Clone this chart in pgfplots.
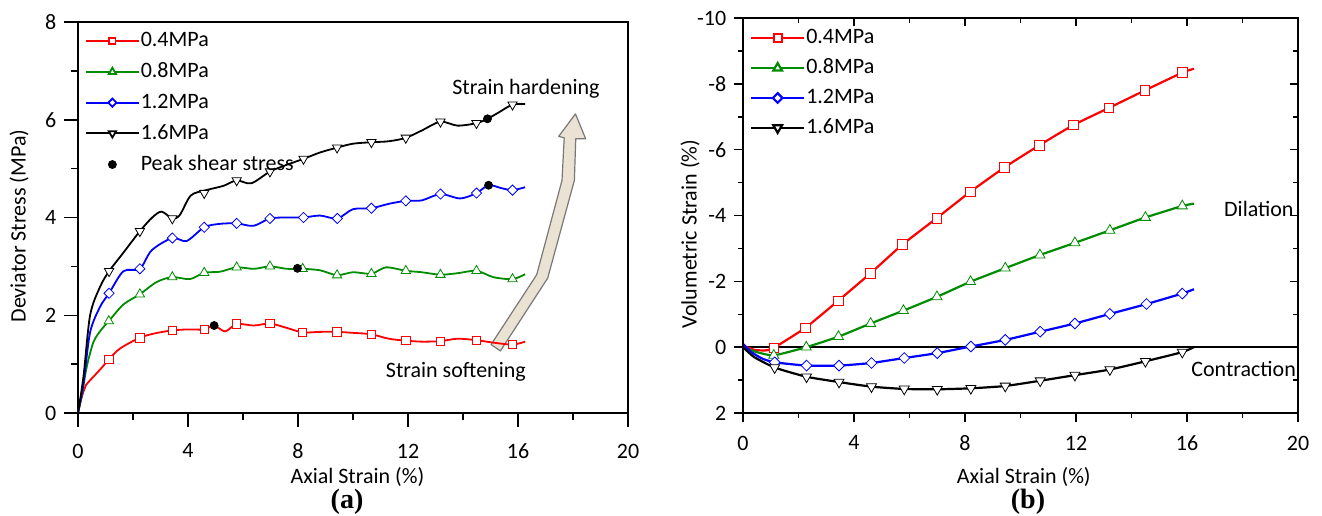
\documentclass[border=0pt]{standalone}
\usepackage{fontspec}
\setmainfont{Carlito}
\newfontfamily\timesfont{Liberation Serif}
\usepackage{pgfplots}
\pgfplotsset{compat=1.18}

\definecolor{cred}{RGB}{255,0,0}
\definecolor{cgreen}{RGB}{0,140,0}
\definecolor{cblue}{RGB}{0,0,255}
\definecolor{arrowfill}{RGB}{234,226,210}
\definecolor{arrowdraw}{RGB}{120,120,120}

\newcommand{\lblfont}{\fontsize{11}{13}\selectfont}
\pgfplotsset{longlegend/.style={legend image code/.code={\draw[mark repeat=2,mark phase=2,##1] plot coordinates {(0pt,0pt) (13.25pt,0pt) (26.5pt,0pt)};}}}

\begin{document}
\lblfont
\begin{tikzpicture}
\useasboundingbox (0,0) rectangle (661pt,257.5pt);

% ---------------- (a) ----------------
\begin{axis}[
  scale only axis,
  at={(39pt,51pt)}, anchor=south west,
  width=275pt, height=195.5pt,
  /pgf/number format/assume math mode=true,
  tick label style={font=\lblfont},
  xmin=0, xmax=20, xtick={0,4,...,20}, minor xtick={2,6,...,18},
  ymin=0, ymax=8, ytick={0,2,...,8}, minor ytick={1,3,...,7},
  tick align=outside, tick pos=left,
  major tick length=7pt, minor tick length=3.5pt,
  axis line style={line width=0.75pt},
  every tick/.style={black, line width=0.75pt},
  xticklabel style={yshift=-4.5pt},
  xlabel={Axial Strain (\%)},
  ylabel={Deviator Stress (MPa)},
  every axis y label/.style={at={(axis description cs:-0.107,0.478)}, anchor=center, rotate=90, font=\lblfont, inner sep=0pt},
  every axis x label/.style={at={(axis description cs:0.508,-0.163)}, anchor=center, font=\lblfont, inner sep=0pt},
  legend style={font=\lblfont, draw=none, fill=none, anchor=north west, inner sep=0pt, row sep=5.4pt,
     nodes={inner sep=0.5pt}, at={(axis description cs:0.012,0.977)}},
  legend cell align=left,
]
\addlegendimage{longlegend, cred, line width=0.9pt, mark=square*, mark size=1.6pt, mark options={fill=white, solid}}
\addlegendentry{0.4MPa}
\addlegendimage{longlegend, cgreen, line width=0.9pt, mark=triangle*, mark size=2.1pt, mark options={fill=white, solid}}
\addlegendentry{0.8MPa}
\addlegendimage{longlegend, cblue, line width=0.9pt, mark=square*, mark size=1.45pt, mark options={fill=white, solid, rotate=45}}
\addlegendentry{1.2MPa}
\addlegendimage{longlegend, black, line width=0.9pt, mark=triangle*, mark size=2.1pt, mark options={fill=white, solid, rotate=180}}
\addlegendentry{1.6MPa}
\addlegendimage{longlegend, only marks, mark=*, black, mark size=2pt}
\addlegendentry{Peak shear stress}

% arrow
\draw[arrowdraw, fill=arrowfill, line width=0.6pt, line join=round]
  (axis cs:15.02,1.40) -- (axis cs:16.68,2.83) -- (axis cs:17.60,4.76) -- (axis cs:17.68,5.63)
  -- (axis cs:17.48,5.66) -- (axis cs:18.09,6.12) -- (axis cs:18.46,5.61) -- (axis cs:18.10,5.61)
  -- (axis cs:18.05,4.76) -- (axis cs:17.08,2.76) -- (axis cs:15.36,1.27) -- cycle;

% 0.4 MPa
\addplot[cred, line width=0.9pt, smooth, tension=0.5] coordinates {
(0,0)(0.15,0.35)(0.3,0.58)(0.44,0.67)(0.69,0.82)(0.9,0.95)(1.12,1.1)(1.53,1.32)(2.25,1.54)(2.8,1.63)(3.43,1.69)(4.0,1.71)(4.59,1.71)(4.95,1.79)(5.35,1.67)(5.77,1.82)(6.4,1.79)(6.98,1.83)(7.6,1.74)(8.17,1.65)(8.8,1.66)(9.42,1.66)(10.0,1.64)(10.67,1.61)(11.3,1.52)(11.92,1.48)(12.5,1.46)(13.18,1.47)(13.8,1.52)(14.49,1.49)(15.1,1.44)(15.8,1.40)(16.26,1.46)};
\addplot[cred, only marks, mark=square*, mark size=2.1pt, mark options={fill=white}] coordinates {
(1.12,1.1)(2.25,1.54)(3.43,1.69)(4.59,1.71)(5.77,1.82)(6.98,1.83)(8.17,1.65)(9.42,1.66)(10.67,1.61)(11.92,1.48)(13.18,1.47)(14.49,1.49)(15.8,1.40)};

% 0.8 MPa
\addplot[cgreen, line width=0.9pt, smooth, tension=0.5] coordinates {
(0,0)(0.15,0.4)(0.32,0.95)(0.56,1.45)(0.84,1.7)(1.12,1.88)(1.65,2.22)(2.25,2.43)(2.86,2.68)(3.43,2.78)(4.07,2.74)(4.59,2.87)(5.16,2.89)(5.77,2.98)(6.4,2.95)(6.98,3.0)(7.6,2.95)(8.17,2.95)(8.8,2.92)(9.42,2.82)(10.0,2.88)(10.67,2.85)(11.2,2.98)(11.92,2.91)(12.5,2.88)(13.18,2.83)(13.8,2.86)(14.49,2.91)(15.1,2.78)(15.8,2.74)(16.26,2.84)};
\addplot[cgreen, only marks, mark=triangle*, mark size=2.7pt, mark options={fill=white}] coordinates {
(1.12,1.88)(2.25,2.43)(3.43,2.78)(4.59,2.87)(5.77,2.98)(6.98,3.0)(8.17,2.95)(9.42,2.82)(10.67,2.85)(11.92,2.91)(13.18,2.83)(14.49,2.91)(15.8,2.74)};

% 1.2 MPa
\addplot[cblue, line width=0.9pt, smooth, tension=0.5] coordinates {
(0,0)(0.2,0.6)(0.44,1.65)(0.8,2.17)(1.13,2.45)(1.65,2.9)(2.25,2.95)(2.68,3.33)(3.43,3.58)(3.95,3.52)(4.59,3.8)(5.16,3.87)(5.77,3.88)(6.38,3.83)(6.98,3.98)(7.6,4.0)(8.2,4.0)(8.8,4.04)(9.43,3.98)(10.0,4.17)(10.67,4.19)(11.3,4.28)(11.92,4.34)(12.5,4.35)(13.18,4.48)(13.9,4.39)(14.49,4.5)(14.93,4.66)(15.4,4.6)(15.8,4.56)(16.26,4.62)};
\addplot[cblue, only marks, mark=square*, mark size=1.8pt, mark options={fill=white, rotate=45}] coordinates {
(1.13,2.45)(2.25,2.95)(3.43,3.58)(4.59,3.8)(5.77,3.88)(6.98,3.98)(8.2,4.0)(9.43,3.98)(10.67,4.19)(11.92,4.34)(13.18,4.48)(14.49,4.5)(15.8,4.56)};

% 1.6 MPa
\addplot[black, line width=0.9pt, smooth, tension=0.5] coordinates {
(0,0)(0.2,0.75)(0.44,2.0)(0.8,2.58)(1.13,2.9)(1.65,3.28)(2.25,3.72)(2.7,4.0)(3.04,4.12)(3.43,3.98)(3.7,4.05)(4.1,4.45)(4.59,4.55)(4.8,4.58)(5.3,4.65)(5.77,4.76)(6.3,4.7)(6.98,4.94)(7.6,5.08)(8.2,5.2)(8.8,5.33)(9.42,5.43)(10.0,5.51)(10.67,5.54)(11.3,5.56)(11.92,5.63)(12.5,5.78)(13.18,5.96)(13.8,5.88)(14.49,5.93)(14.89,6.02)(15.3,6.15)(15.8,6.31)(16.26,6.32)};
\addplot[black, only marks, mark=triangle*, mark size=2.7pt, mark options={fill=white, rotate=180}] coordinates {
(1.13,2.9)(2.25,3.72)(3.43,3.98)(4.59,4.5)(5.77,4.76)(6.98,4.94)(8.2,5.2)(9.42,5.43)(10.67,5.54)(11.92,5.63)(13.18,5.96)(14.49,5.93)(15.8,6.31)};

% peak shear stress
\addplot[black, only marks, mark=*, mark size=2pt] coordinates {
(4.95,1.79)(7.98,2.96)(14.93,4.66)(14.89,6.02)};

\node[font=\lblfont] at (axis cs:16.29,6.63) {Strain hardening};
\node[font=\lblfont] at (axis cs:13.74,0.84) {Strain softening};
\end{axis}

% ---------------- (b) ----------------
\begin{axis}[
  scale only axis,
  at={(371.5pt,51pt)}, anchor=south west,
  width=277.5pt, height=197.5pt,
  /pgf/number format/assume math mode=true,
  tick label style={font=\lblfont},
  xmin=0, xmax=20, xtick={0,4,...,20}, minor xtick={2,6,...,18},
  ymin=-10, ymax=2, y dir=reverse, ytick={-10,-8,...,2}, minor ytick={-9,-7,...,1},
  tick align=outside, tick pos=left,
  major tick length=4.5pt, minor tick length=2.5pt,
  axis line style={line width=0.75pt},
  every tick/.style={black, line width=0.75pt},
  xticklabel style={yshift=-3pt},
  xlabel={Axial Strain (\%)},
  ylabel={Volumetric Strain (\%)},
  every axis y label/.style={at={(axis description cs:-0.0955,0.453)}, anchor=center, rotate=90, font=\lblfont, inner sep=0pt},
  every axis x label/.style={at={(axis description cs:0.506,-0.162)}, anchor=center, font=\lblfont, inner sep=0pt},
  legend style={font=\lblfont, draw=none, fill=none, anchor=north west, inner sep=0pt, row sep=5.0pt,
     nodes={inner sep=0.5pt}, at={(axis description cs:0.012,0.975)}},
  legend cell align=left,
]
\addlegendimage{longlegend, cred, line width=1.1pt, mark=square*, mark size=2.0pt, mark options={fill=white, solid}}
\addlegendentry{0.4MPa}
\addlegendimage{longlegend, cgreen, line width=1.1pt, mark=triangle*, mark size=2.5pt, mark options={fill=white, solid}}
\addlegendentry{0.8MPa}
\addlegendimage{longlegend, cblue, line width=1.1pt, mark=square*, mark size=1.7pt, mark options={fill=white, solid, rotate=45}}
\addlegendentry{1.2MPa}
\addlegendimage{longlegend, black, line width=1.1pt, mark=triangle*, mark size=2.5pt, mark options={fill=white, solid, rotate=180}}
\addlegendentry{1.6MPa}

\draw[black, line width=0.75pt] (axis cs:0,0) -- (axis cs:20,0);

% 0.4 MPa
\addplot[cred, line width=1.1pt, smooth, tension=0.3] coordinates {
(0,-0.05)(0.4,0.08)(0.8,0.1)(1.11,0.02)(2.25,-0.59)(3.43,-1.41)(4.6,-2.25)(5.75,-3.12)(6.98,-3.92)(8.19,-4.72)(9.42,-5.46)(10.67,-6.13)(11.91,-6.75)(13.19,-7.27)(14.48,-7.80)(15.83,-8.34)(16.25,-8.46)};
\addplot[cred, only marks, mark=square*, mark size=2.4pt, mark options={fill=white}] coordinates {
(1.11,0.02)(2.25,-0.59)(3.43,-1.41)(4.6,-2.25)(5.75,-3.12)(6.98,-3.92)(8.19,-4.72)(9.42,-5.46)(10.67,-6.13)(11.91,-6.75)(13.19,-7.27)(14.48,-7.80)(15.83,-8.34)};

% 0.8 MPa
\addplot[cgreen, line width=1.1pt, smooth, tension=0.3] coordinates {
(0,0)(0.5,0.15)(1.11,0.25)(2.28,0.0)(3.44,-0.32)(4.6,-0.72)(5.78,-1.11)(6.99,-1.53)(8.2,-1.99)(9.45,-2.40)(10.7,-2.80)(11.96,-3.17)(13.22,-3.55)(14.5,-3.94)(15.83,-4.29)(16.25,-4.36)};
\addplot[cgreen, only marks, mark=triangle*, mark size=2.9pt, mark options={fill=white}] coordinates {
(1.11,0.25)(2.28,0.0)(3.44,-0.32)(4.6,-0.72)(5.78,-1.11)(6.99,-1.53)(8.2,-1.99)(9.45,-2.40)(10.7,-2.80)(11.96,-3.17)(13.22,-3.55)(14.5,-3.94)(15.83,-4.29)};

% 1.2 MPa
\addplot[cblue, line width=1.1pt, smooth, tension=0.3] coordinates {
(0,-0.1)(0.3,0.15)(0.7,0.35)(1.14,0.46)(2.29,0.56)(3.46,0.56)(4.63,0.48)(5.81,0.33)(7.0,0.18)(8.21,-0.02)(9.45,-0.22)(10.71,-0.47)(11.96,-0.72)(13.22,-1.01)(14.54,-1.31)(15.83,-1.63)(16.25,-1.76)};
\addplot[cblue, only marks, mark=square*, mark size=1.9pt, mark options={fill=white, rotate=45}] coordinates {
(1.14,0.46)(2.29,0.56)(3.46,0.56)(4.63,0.48)(5.81,0.33)(7.0,0.18)(8.21,-0.02)(9.45,-0.22)(10.71,-0.47)(11.96,-0.72)(13.22,-1.01)(14.54,-1.31)(15.83,-1.63)};

% 1.6 MPa
\addplot[black, line width=1.1pt, smooth, tension=0.3] coordinates {
(0,0)(0.4,0.3)(1.14,0.62)(2.29,0.9)(3.46,1.06)(4.63,1.2)(5.81,1.27)(7.0,1.28)(8.21,1.25)(9.45,1.18)(10.71,1.02)(11.96,0.85)(13.22,0.68)(14.5,0.43)(15.83,0.15)(16.25,0.0)};
\addplot[black, only marks, mark=triangle*, mark size=2.9pt, mark options={fill=white, rotate=180}] coordinates {
(1.14,0.62)(2.29,0.9)(3.46,1.06)(4.63,1.2)(5.81,1.27)(7.0,1.28)(8.21,1.25)(9.45,1.18)(10.71,1.02)(11.96,0.85)(13.22,0.68)(14.5,0.43)(15.83,0.15)};

\node[font=\lblfont] at (axis cs:18.59,-4.19) {Dilation};
\node[font=\lblfont] at (axis cs:18.04,0.65) {Contraction};
\end{axis}

% mirrored inward ticks on top and right of (b)
\begin{axis}[
  scale only axis,
  at={(371.5pt,51pt)}, anchor=south west,
  width=277.5pt, height=197.5pt,
  xmin=0, xmax=20, xtick={0,4,...,20}, minor xtick={2,6,...,18},
  ymin=-10, ymax=2, y dir=reverse, ytick={-10,-8,...,2}, minor ytick={-9,-7,...,1},
  xticklabels={}, yticklabels={},
  tick align=inside, xtick pos=upper, ytick pos=upper,
  major tick length=4pt, minor tick length=2.5pt,
  axis line style={line width=0.75pt},
  every tick/.style={black, line width=0.75pt},
]
\end{axis}

\node[font=\timesfont\bfseries\fontsize{14}{16}\selectfont, inner sep=0pt] at (173.5pt,6.5pt) {(a)};
\node[font=\timesfont\bfseries\fontsize{14}{16}\selectfont, inner sep=0pt] at (514pt,6.5pt) {(b)};
\end{tikzpicture}
\end{document}
